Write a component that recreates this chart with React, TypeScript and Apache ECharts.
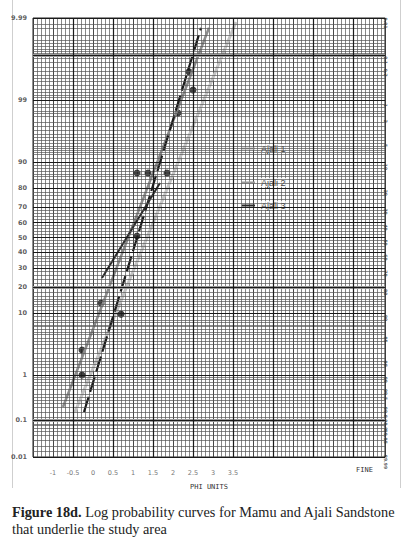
import React, { useEffect, useRef } from "react";
import * as echarts from "echarts";

// ---- data (phi units, cumulative percent) ----
const AJALI1_PHI = [-0.45, 3.575];
const AJALI1_PCT = [0.155, 99.987];
const AJALI2_PHI = [-0.75, 2.9];
const AJALI2_PCT = [0.204, 99.981];
const AJALI3_PHI = [0.225, 1.675];
const AJALI3_PCT = [24.6, 82.2];
const MAMU_PHI = [-0.225, 2.7];
const MAMU_PCT = [0.155, 99.981];
const POINT_PHI = [2.4, 2.5, 2.125, 1.1, 1.375, 1.85, 1.1, 0.2, 0.7, -0.275, -0.275];
const POINT_PCT = [99.75, 99.38, 98.26, 86.3, 86.3, 86.3, 51, 13.3, 9.7, 2.83, 0.99];

// ---- tick labels ----
const LEFT_LABEL_P = [99.99, 99, 90, 80, 70, 60, 50, 40, 30, 20, 10, 1, 0.1, 0.01];
const LEFT_LABEL_TEXT = ["9.99", "99", "90", "80", "70", "60", "50", "40", "30", "20", "10", "1", "0.1", "0.01"];
const RIGHT_LABEL_P = [0.01, 0.1, 0.2, 1, 2, 5, 10, 20, 30, 40, 50, 60, 70, 80, 90, 95, 98, 99, 99.5, 99.8, 99.9, 99.95, 99.99];
const X_LABEL_MIN = -1;
const X_LABEL_MAX = 3.5;

// ---- probability-paper ruling ----
const RULE_LOW = [0.01, 0.015, 0.02, 0.03, 0.04, 0.05, 0.06, 0.07, 0.08, 0.09, 0.1, 0.12, 0.15, 0.2, 0.25, 0.3, 0.35, 0.4, 0.5, 0.6, 0.7, 0.8, 0.9, 1, 1.2, 1.4, 1.6, 1.8, 2, 2.5, 3, 3.5, 4, 4.5, 5, 5.5, 6, 6.5, 7, 7.5, 8, 9, 10, 11, 12, 13, 14, 15, 16, 18, 20, 22, 24, 26, 28, 30, 32, 34, 36, 38, 40, 42, 44, 46, 48];
const RULE_MAJOR = [0.01, 0.1, 1, 10, 20, 30, 40, 50, 60, 70, 80, 90, 99, 99.9, 99.99];
const RULE_BANDS = [0.1, 20, 99.9];
const RULE_MAJOR_X = [-0.5, 0.5, 1.5, 2.5, 3.5, 4.5, 5.5, 6.5];

function probit(p: number): number {
  const a = [-3.969683028665376e1, 2.209460984245205e2, -2.759285104469687e2, 1.38357751867269e2, -3.066479806614716e1, 2.506628277459239];
  const b = [-5.447609879822406e1, 1.615858368580409e2, -1.556989798598866e2, 6.680131188771972e1, -1.328068155288572e1];
  const c = [-7.784894002430293e-3, -3.223964580411365e-1, -2.400758277161838, -2.549732539343734, 4.374664141464968, 2.938163982698783];
  const d = [7.784695709041462e-3, 3.224671290700398e-1, 2.445134137142996, 3.754408661907416];
  const plow = 0.02425;
  if (p < plow) {
    const q = Math.sqrt(-2 * Math.log(p));
    return (((((c[0] * q + c[1]) * q + c[2]) * q + c[3]) * q + c[4]) * q + c[5]) / ((((d[0] * q + d[1]) * q + d[2]) * q + d[3]) * q + 1);
  }
  if (p <= 1 - plow) {
    const q = p - 0.5;
    const r = q * q;
    return ((((((a[0] * r + a[1]) * r + a[2]) * r + a[3]) * r + a[4]) * r + a[5]) * q) / (((((b[0] * r + b[1]) * r + b[2]) * r + b[3]) * r + b[4]) * r + 1);
  }
  const q = Math.sqrt(-2 * Math.log(1 - p));
  return -(((((c[0] * q + c[1]) * q + c[2]) * q + c[3]) * q + c[4]) * q + c[5]) / ((((d[0] * q + d[1]) * q + d[2]) * q + d[3]) * q + 1);
}
const z = (pct: number) => probit(pct / 100);

const X_MIN = -1.5;
const X_MAX = 7.3;
const Z_LIM = 3.72;

const pairs = (xs: number[], ps: number[]) => xs.map((x, i) => [x, z(ps[i])]);

export default function App() {
  const ref = useRef<HTMLDivElement>(null);
  useEffect(() => {
    document.body.style.margin = "0";
    const chart = echarts.init(ref.current!, null, { renderer: "svg" });
    const ruleAll = [...RULE_LOW, 50, ...RULE_LOW.map((p) => 100 - p)];
    const hLine = (p: number, color: string, width: number) => ({
      yAxis: z(p),
      lineStyle: { color, width, type: "solid" },
    });
    const markLineBase = {
      silent: true,
      symbol: ["none", "none"],
      label: { show: false },
      animation: false,
    };
    const legendCommon = {
      itemWidth: 13,
      itemHeight: 2,
      icon: "rect",
      itemGap: 6,
      textStyle: {
        fontSize: 9,
        color: "#444",
        fontFamily: "Liberation Sans",
        backgroundColor: "rgba(255,255,255,0.75)",
        padding: [0, 1],
      },
    };
    const option: any = {
      animation: false,
      backgroundColor: "#ffffff",
      grid: { left: 33, top: 18, width: 352, height: 439, show: true, borderColor: "#222", borderWidth: 1, backgroundColor: "#fff" },
      xAxis: {
        type: "value",
        min: X_MIN,
        max: X_MAX,
        interval: 0.5,
        axisLine: { show: false },
        axisTick: { show: false },
        axisLabel: {
          margin: 12,
          fontSize: 6.5,
          color: "#777",
          fontFamily: "DejaVu Sans",
          formatter: (v: number) => (v >= X_LABEL_MIN - 1e-9 && v <= X_LABEL_MAX + 1e-9 ? String(v) : ""),
        },
        splitLine: { show: true, lineStyle: { color: "#333", width: 0.9 } },
        minorTick: { show: false, splitNumber: 5 },
        minorSplitLine: { show: true, lineStyle: { color: "#555", width: 0.7 } },
        name: "PHI UNITS",
        nameLocation: "middle",
        nameGap: 26,
        nameTextStyle: { fontSize: 7, color: "#333", fontFamily: "DejaVu Sans Mono" },
      },
      yAxis: {
        type: "value",
        min: -Z_LIM,
        max: Z_LIM,
        axisLine: { show: false },
        axisTick: { show: false },
        axisLabel: { show: false },
        splitLine: { show: false },
      },
      legend: [
        { ...legendCommon, data: ["Ajali 1"], left: 237, top: 139 },
        { ...legendCommon, data: ["Ajali 2"], left: 237, top: 173 },
        { ...legendCommon, data: ["Ajali 3"], left: 237, top: 196 },
      ],
      graphic: [
        { type: "line", shape: { x1: 12.5, y1: 0, x2: 12.5, y2: 488 }, style: { stroke: "#cfcfcf", lineWidth: 1 } },
        { type: "line", shape: { x1: 400.5, y1: 0, x2: 400.5, y2: 488 }, style: { stroke: "#cfcfcf", lineWidth: 1 } },
        { type: "text", left: 356, top: 466, style: { text: "FINE", fontSize: 7, fontFamily: "DejaVu Sans Mono", fill: "#333" } },
        {
          type: "text",
          left: 12,
          top: 503,
          style: {
            text: "{b|Figure 18d.} Log probability curves for Mamu and Ajali Sandstone\nthat underlie the study area",
            fontFamily: "Liberation Serif",
            fontSize: 14.3,
            lineHeight: 17,
            fill: "#222",
            rich: { b: { fontFamily: "Liberation Serif", fontSize: 14.3, lineHeight: 17, fontWeight: "bold", fill: "#222" } },
          },
        },
      ],
      series: [
        {
          name: "ruling",
          type: "scatter",
          data: [[X_MIN, 0]],
          symbolSize: 0,
          silent: true,
          markLine: {
            ...markLineBase,
            data: [
              ...ruleAll.map((p) => hLine(p, "#555", 0.7)),
              ...RULE_BANDS.map((p) => hLine(p, "#9a9a9a", 3)),
              ...RULE_MAJOR.map((p) => hLine(p, "#1a1a1a", 1.1)),
              ...RULE_MAJOR_X.map((x) => ({ xAxis: x, lineStyle: { color: "#1a1a1a", width: 1.2, type: "solid" } })),
            ],
          },
        },
        {
          name: "Ajali 1",
          type: "line",
          data: pairs(AJALI1_PHI, AJALI1_PCT),
          symbol: "none",
          lineStyle: { color: "#c4c4c4", width: 3 },
          itemStyle: { color: "#bdbdbd" },
        },
        {
          name: "Ajali 2",
          type: "line",
          data: pairs(AJALI2_PHI, AJALI2_PCT),
          symbol: "none",
          lineStyle: { color: "#8c8c8c", width: 2.5 },
          itemStyle: { color: "#9a9a9a" },
        },
        {
          name: "Mamu",
          type: "line",
          data: pairs(MAMU_PHI, MAMU_PCT),
          symbol: "none",
          lineStyle: { color: "#1a1a1a", width: 2.2, type: [16, 5] },
          itemStyle: { color: "#1a1a1a" },
        },
        {
          name: "Ajali 3",
          type: "line",
          data: pairs(AJALI3_PHI, AJALI3_PCT),
          symbol: "none",
          lineStyle: { color: "#2a2a2a", width: 2 },
          itemStyle: { color: "#2a2a2a" },
        },
        {
          name: "samples",
          type: "scatter",
          data: pairs(POINT_PHI, POINT_PCT),
          symbolSize: 7,
          itemStyle: { color: "#111" },
        },
        {
          name: "left labels",
          type: "scatter",
          silent: true,
          symbolSize: 0,
          data: LEFT_LABEL_P.map((p, i) => ({ value: [X_MIN, z(p)], name: LEFT_LABEL_TEXT[i] })),
          label: {
            show: true,
            position: "left",
            distance: 6,
            formatter: (d: any) => d.name,
            fontSize: 6.5,
            fontWeight: "bold",
            color: "#333",
            fontFamily: "DejaVu Sans",
          },
        },
        {
          name: "right labels",
          type: "scatter",
          silent: true,
          symbolSize: 0,
          data: RIGHT_LABEL_P.map((p) => ({ value: [X_MAX, z(100 - p)], name: String(p) })),
          label: {
            show: true,
            position: "inside",
            offset: [5, 0],
            rotate: -90,
            formatter: (d: any) => d.name,
            fontSize: 4.5,
            fontWeight: "bold",
            color: "#333",
            fontFamily: "DejaVu Sans",
          },
        },
      ],
    };
    chart.setOption(option);
    return () => chart.dispose();
  }, []);
  return <div ref={ref} style={{ width: 411, height: 543 }} />;
}
